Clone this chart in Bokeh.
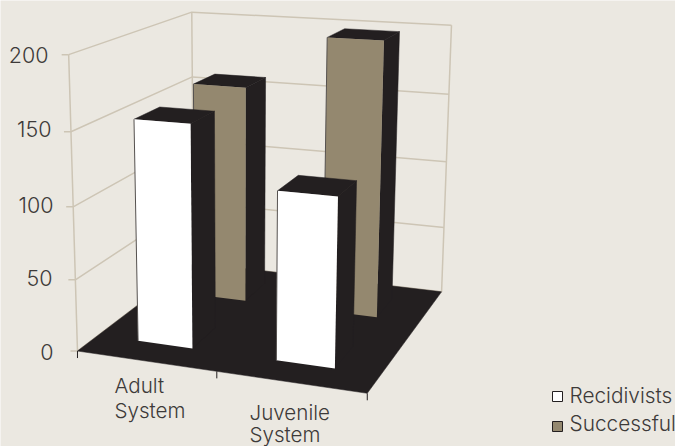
import numpy as np
from bokeh.plotting import figure
from bokeh.models import Range1d
from bokeh.core.properties import value
from bokeh.embed import file_html
from bokeh.resources import INLINE

categories = ["Adult\nSystem", "Juvenile\nSystem"]
series_names = ["Recidivists", "Successful"]
recidivists = [154, 115]
successful = [159, 198]
value_ticks = [0, 50, 100, 150, 200]

BG, DARK, TAN, GRID, TXT = "#ebe8e1", "#231f20", "#94886f", "#cdc5b5", "#3d3a39"
FONT = value("Inter Light, Inter")

# Perspective camera calibrated from the plot box corners: (category, depth, value) -> pixels
anchors = [((0,0,0),(78,351)),((2,0,0),(366,393)),((2,1,0),(442,291)),((0,1,0),(192,262)),
           ((0,0,200),(67,53)),((0,1,200),(192,12)),((2,1,200),(451,25)),((0,0,100),(73,206)),
           ((2,1,100),(446,161)),((0,0,150),(71,132)),((2,1,150),(448,94))]
M, b = [], []
for (u,w,v),(x,y) in anchors:
    M.append([u,w,v,1,0,0,0,0,-x*u,-x*w,-x*v]); b.append(x)
    M.append([0,0,0,0,u,w,v,1,-y*u,-y*w,-y*v]); b.append(y)
h = np.linalg.lstsq(np.array(M,float), np.array(b,float), rcond=None)[0]
P = np.append(h,1).reshape(3,4)
def pr(u,w,v):
    r = P @ np.array([u,w,v,1.0])
    return r[0]/r[2], r[1]/r[2]
def poly(pts):
    q = [pr(*t) for t in pts]
    return [a for a,_ in q], [c for _,c in q]

p = figure(width=675, height=446, x_range=Range1d(0,675), y_range=Range1d(446,0),
           output_backend="svg", toolbar_location=None, min_border=0,
           background_fill_color=BG, border_fill_color=BG, outline_line_color=None,
           margin=0)
p.axis.visible = False
p.grid.visible = False

vmax = value_ticks[-1]
tick_label_right = [53, 52, 53, 51, 48]
tick_label_base = [351, 277, 204, 128, 54]
# walls' gridlines and frame
for t, rx, by in zip(value_ticks, tick_label_right, tick_label_base):
    xs, ys = poly([(0,0,t),(0,1,t),(2,1,t)])
    p.line(xs, ys, line_color=GRID, line_width=1.5)
    x0, y0 = pr(0,0,t)
    p.line([x0-7, x0], [y0, y0], line_color=GRID, line_width=1.5)
    p.text([rx], [by], text=[str(t)], text_font=FONT, text_font_size="21.5px",
           text_color=TXT, text_align="right", text_baseline="alphabetic")
for u,w in [(0,0),(0,1),(2,1)]:
    xs, ys = poly([(u,w,0),(u,w,vmax)])
    p.line(xs, ys, line_color=GRID, line_width=1.5)

# floor
xs, ys = poly([(0,0,0),(2,0,0),(2,1,0),(0,1,0)])
p.patch(xs, ys, fill_color=DARK, line_color=DARK, line_width=0.5)

# category ticks
for u in [0,1,2]:
    x0, y0 = pr(u,0,0)
    p.line([x0, x0], [y0, y0+7], line_color=DARK, line_width=1)

U = [(0.30,0.70),(1.295,1.695)]
series = [(successful, (0.655,0.86), TAN), (recidivists, (0.155,0.36), "#ffffff")]
for vals, (w0,w1), col in series:
    for i, val in enumerate(vals):
        u0, u1 = U[i]
        xs, ys = poly([(u1,w0,0),(u1,w0,val),(u1,w1,val),(u1,w1,0)])
        p.patch(xs, ys, fill_color=DARK, line_color=DARK, line_width=0.5)
        xs, ys = poly([(u0,w0,val),(u1,w0,val),(u1,w1,val),(u0,w1,val)])
        p.patch(xs, ys, fill_color=DARK, line_color=DARK, line_width=0.5)
        xs, ys = poly([(u0,w0,0),(u1,w0,0),(u1,w0,val),(u0,w0,val)])
        p.patch(xs, ys, fill_color=col, line_color=None)
        xs, ys = poly([(u0,w0,0),(u0,w0,val)])
        p.line(xs, ys, line_color="#55514f", line_width=1)

# category labels
label_x = [114, 249]
label_base = [[385, 410], [412, 434]]
for c, lx, bases in zip(categories, label_x, label_base):
    for line, by in zip(c.split("\n"), bases):
        p.text([lx], [by], text=[line], text_font=FONT, text_font_size="20.6px",
               text_color=TXT, text_align="left", text_baseline="alphabetic")

# legend
for name, col, ly, by in zip(series_names, ["#ffffff", TAN], [396, 426], [395, 423]):
    p.rect([557], [ly], width=10, height=10, fill_color=col, line_color=DARK, line_width=1)
    p.text([569], [by], text=[name], text_font=FONT, text_font_size="20.8px",
           text_color=TXT, text_align="left", text_baseline="alphabetic")

open("out.html", "w").write(file_html(p, INLINE))
